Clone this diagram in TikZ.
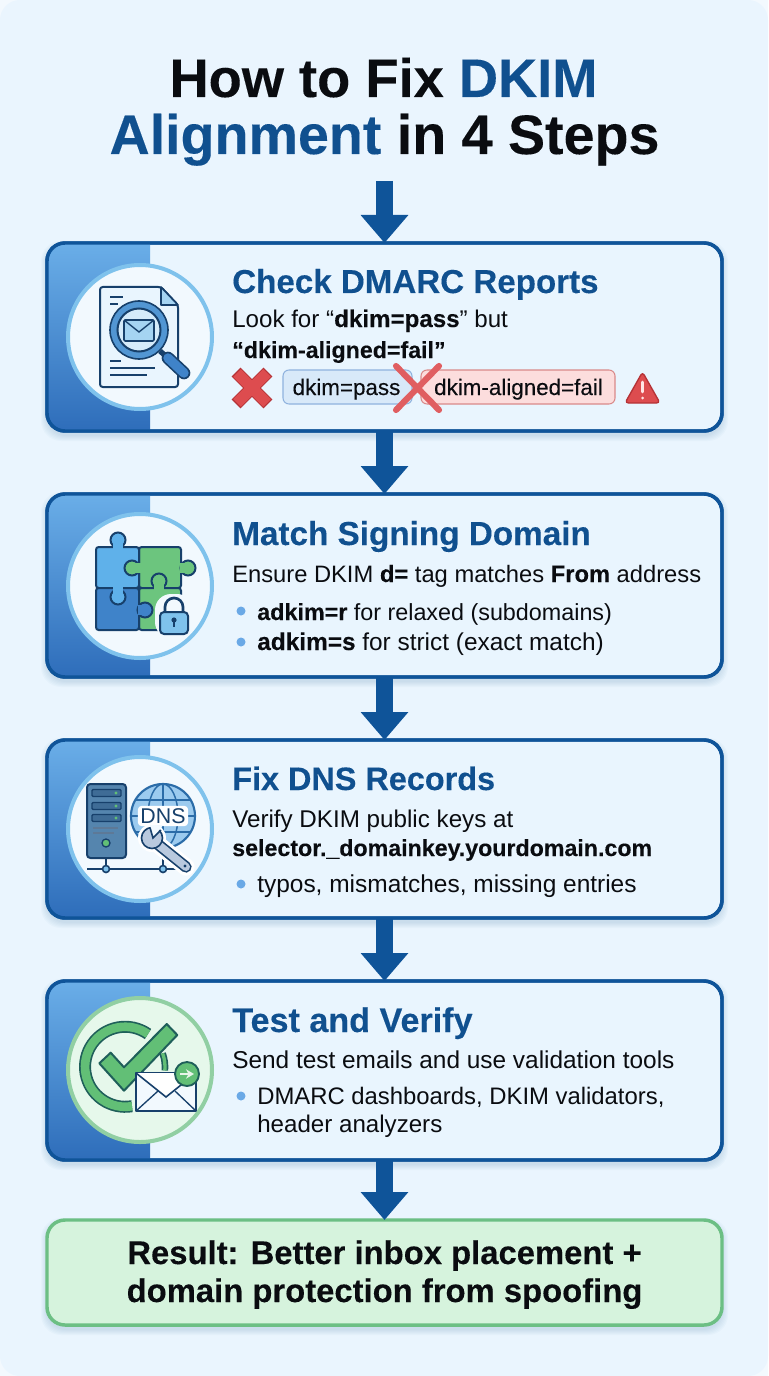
\documentclass[tikz,border=0pt]{standalone}
\usepackage{fontspec}
\setmainfont[BoldFeatures={FakeBold=0.2}]{Liberation Sans}
\newfontfamily\midfont[FakeBold=0.25]{Liberation Sans}
\usetikzlibrary{arrows.meta,calc}
\definecolor{pagebg}{HTML}{EAF5FE}
\definecolor{pagecorner}{HTML}{F3F9FE}
\definecolor{cardfill}{HTML}{E9F5FE}
\definecolor{navy}{HTML}{0F5499}
\definecolor{heading}{HTML}{10508F}
\definecolor{ink}{HTML}{0A0C10}
\definecolor{panelTop}{HTML}{6AAEE8}
\definecolor{panelBot}{HTML}{2E6DBA}
\definecolor{ringblue}{HTML}{7FC2EC}
\definecolor{ringfillc}{HTML}{F2F9FE}
\definecolor{outl}{HTML}{17406B}
\definecolor{bullet}{HTML}{6AA9E6}
\definecolor{redx}{HTML}{DD4C4F}
\definecolor{redd}{HTML}{B53236}
\definecolor{greenfill}{HTML}{D6F3DD}
\definecolor{greenline}{HTML}{6CBF84}
\definecolor{chk}{HTML}{62BF76}
\definecolor{chkd}{HTML}{1F5F5A}
\definecolor{pzA}{HTML}{5FB1EA}
\definecolor{pzB}{HTML}{3F83C9}
\definecolor{pzG}{HTML}{6CC57E}
\definecolor{globefill}{HTML}{9CCBEF}
\definecolor{globeline}{HTML}{2B6CA8}
\definecolor{servfill}{HTML}{5585AE}
\definecolor{slotfill}{HTML}{3F6C96}
\definecolor{steel}{HTML}{B9C9DE}
\definecolor{passfill}{HTML}{D8E9F9}
\definecolor{passline}{HTML}{8FB2DE}
\definecolor{failfill}{HTML}{FCDDDD}
\definecolor{failline}{HTML}{D98A8A}
\tikzset{
  cardbox/.style={draw=navy,line width=2.6pt,fill=cardfill,rounded corners=13.5pt,minimum width=506.25pt,outer sep=0pt,inner sep=0pt},
  flow/.style={draw=navy,line width=13pt,-{Triangle[width=34.5pt,length=21pt]}},
  cardtitle/.style={anchor=base west,inner sep=0pt,text=heading,font=\bfseries\fontsize{#1}{28}\selectfont},
  bodytext/.style={anchor=base west,inner sep=0pt,text=ink,font=\fontsize{#1}{20}\selectfont},
  pilltext/.style={anchor=base,inner sep=0pt,text=ink,font=\midfont\fontsize{16.8}{18}\selectfont},
  titletext/.style={anchor=base,inner sep=0pt,text=ink,font=\bfseries\fontsize{#1}{46}\selectfont},
  resulttext/.style={anchor=base,inner sep=0pt,text=ink,font=\bfseries\fontsize{24.6}{28}\selectfont},
  ringc/.style={draw=ringblue,line width=3pt,fill=ringfillc},
  dot/.style={fill=bullet,draw=none},
  icon/.style={draw=outl,line width=1.5pt,line join=round},
}
\newcommand\softshadow[2]{% top, bottom
  \foreach \e in {1,2,...,6}{
    \fill[navy,opacity=0.025,rounded corners=15pt] ($(47-\e,#1-\e+4)$) rectangle ($(722+\e,#2+\e+4)$);
  }}
\newcommand\cardpanel[3]{% name, top, bottom
  \begin{scope}
    \clip[rounded corners=13.5pt] (47,#2) rectangle (722,#3);
    \shade[top color=panelTop,bottom color=panelBot] (47,#2) rectangle (150,#3);
  \end{scope}
  \draw[navy,line width=2.6pt,rounded corners=13.5pt] (#1.north west) rectangle (#1.south east);}
\begin{document}
\begin{tikzpicture}[x=0.75pt,y=-0.75pt]
\useasboundingbox (0,0) rectangle (768,1376);
\fill[pagecorner] (0,0) rectangle (768,1376);
\fill[pagebg,rounded corners=15pt] (0,0) rectangle (768,1376);

% title
\node[titletext=40.7] (t1) at (383.5,97) {How to Fix \textcolor{heading}{DKIM}};
\node[titletext=41.7] (t2) at (384.5,154) {\textcolor{heading}{Alignment} in 4 Steps};
\coordinate (start) at (384.5,181);

% cards
\softshadow{243}{431}\softshadow{494}{677}\softshadow{740}{918}\softshadow{981}{1160}\softshadow{1220}{1325}
\node[cardbox,minimum height=141pt] (c1) at (384.5,337) {};
\node[cardbox,minimum height=137.25pt] (c2) at (384.5,585.5) {};
\node[cardbox,minimum height=133.5pt] (c3) at (384.5,829) {};
\node[cardbox,minimum height=134.25pt] (c4) at (384.5,1070.5) {};
\node[cardbox,draw=greenline,fill=greenfill,minimum height=78.75pt] (c5) at (384.5,1272.5) {};
\cardpanel{c1}{243}{431}
\cardpanel{c2}{494}{677}
\cardpanel{c3}{740}{918}
\cardpanel{c4}{981}{1160}

% arrows
\draw[flow] (start) -- (c1.north);
\draw[flow] (c1.south) -- (c2.north);
\draw[flow] (c2.south) -- (c3.north);
\draw[flow] (c3.south) -- (c4.north);
\draw[flow] (c4.south) -- (c5.north);

% circles
\draw[ringc] (140,337) circle[radius=72];
\draw[ringc] (140,586) circle[radius=72];
\draw[ringc] (140,829) circle[radius=72];
\draw[draw=greenline!75!white,line width=3pt,fill=greenfill!60!white] (140,1070) circle[radius=72];

% ---- icon 1: document + magnifier
\draw[icon,fill=cardfill] (100,292) [rounded corners=2pt]-- (100,387) -- (178,387) -- (178,305) -- (161,287) -- (100,287) -- cycle;
\draw[icon,fill=ringblue!70!white,line width=1.2pt] (161,287) -- (161,305) -- (178,305) -- cycle;
\draw[outl,line width=1.1pt] (110,297) -- (123,297) (110,304) -- (118,304) (110,361) -- (121,361) (110,368) -- (155,368) (110,375) -- (147,375);
\draw[outl,line width=4pt] (160,351) -- (168,358);
\draw[outl,line width=9.5pt,line cap=round] (168,358) -- (184,373);
\draw[pzB,line width=7pt,line cap=round] (168,358) -- (184,373);
\draw[outl,line width=1.2pt,fill=pzB!70!ringblue] (139,330) circle[radius=29];
\draw[outl,line width=1.5pt,fill=ringfillc!75!ringblue] (139,330) circle[radius=21.5];
\draw[outl,line width=1.2pt,fill=ringblue!70!white,rounded corners=1pt] (124,320) rectangle (154,341);
\draw[outl,line width=1pt] (124,320) -- (139,332) -- (154,320);

% ---- icon 2: puzzle
\begin{scope}[line width=1.5pt,draw=outl]
\draw[fill=pzG,rounded corners=2pt] (139,547) rectangle (181,588);
\draw[fill=pzG,rounded corners=2pt] (139,588) rectangle (181,630);
\draw[fill=pzA,rounded corners=2pt] (96,547) rectangle (139,588);
\draw[fill=pzB,rounded corners=2pt] (96,588) rectangle (139,630);
% knobs
\draw[fill=pzA] (118,540) circle[radius=7.5];
\fill[pzA] (113,543) rectangle (123,548.5);
\draw[fill=pzG] (132,568) circle[radius=7.5];
\fill[pzG] (135,563) rectangle (140.5,573);
\draw[fill=pzG] (188,568) circle[radius=7.5];
\fill[pzG] (179.5,563) rectangle (185,573);
\draw[fill=pzG] (159,581) circle[radius=7.5];
\fill[pzG] (154,584) rectangle (164,589.5);
\draw[fill=pzA] (118,597) circle[radius=7.5];
\fill[pzA] (113,586.5) rectangle (123,594);
\draw[fill=pzB] (145,610) circle[radius=7.5];
\fill[pzB] (137.5,605) rectangle (142,615);
% lock
\fill[ringfillc,rounded corners=12pt] (155,594) rectangle (193,638);
\draw[outl,line width=2pt] (165,613) -- (165,607) arc[start angle=180,end angle=360,radius=9] -- (183,613);
\draw[fill=ringblue,rounded corners=3pt] (160,612) rectangle (188,634);
\fill[outl] (174,620) circle[radius=2.6];
\draw[outl,line width=1.4pt] (174,620) -- (174,627);
\end{scope}

% ---- icon 3: server, globe
\draw[outl,line width=1.4pt] (87,869) -- (176,869) (106,858) -- (106,869) (163,845) -- (163,869);
\draw[icon,fill=servfill,rounded corners=2.5pt] (87,784) rectangle (126,858);
\foreach \yy in {793,806,818}{
  \draw[outl,line width=1pt,fill=slotfill,rounded corners=.8pt] (92,\yy-3.5) rectangle (121,\yy+3.5);
  \fill[chk] (116,\yy) circle[radius=1.6];
}
\draw[outl!70!white,line width=.8pt] (93,828) -- (118,828) (93,833) -- (114,833);
\draw[outl,line width=1pt,fill=chk] (106,843) circle[radius=4];
\draw[outl,line width=1.2pt,fill=ringblue] (106,869) circle[radius=3.5];
\draw[outl,line width=1.2pt,fill=ringblue] (163,869) circle[radius=3.5];
\begin{scope}
\clip (163,816) circle[radius=32];
\fill[globefill] (163,816) circle[radius=32];
\draw[globeline,line width=1.1pt] (163,784) -- (163,848) (131,816) -- (195,816) (131,800) -- (195,800) (131,832) -- (195,832);
\draw[globeline,line width=1.1pt] (163,816) ellipse[x radius=15,y radius=32];
\end{scope}
\draw[globeline,line width=1.6pt] (163,816) circle[radius=32];
\node[fill=white,rounded corners=3pt,inner sep=2pt,text=outl,font=\fontsize{16}{18}\selectfont] (dnslabel) at (163,816) {DNS};
% wrench
\draw[white,line width=13pt,line cap=round] (155,842) -- (186,867);
\fill[white] (152,838) circle[radius=14];
\draw[outl,line width=8.5pt,line cap=round] (155,842) -- (186,867);
\draw[steel,line width=6pt,line cap=round] (155,842) -- (186,867);
\draw[outl,line width=1.2pt,fill=steel] (152,838) circle[radius=10.5];
\fill[ringfillc] (153,838) -- (150,825) -- (163,825) -- cycle;
\draw[outl,line width=1.2pt] (150,827.7) -- (153,838) -- (161,830);
\fill[outl] (185,866) circle[radius=1.6];

% ---- icon 4: check + envelope
\draw[chkd,line width=9pt] (148,1034) arc[start angle=-55,end angle=-280,radius=40];
\draw[chk,line width=6.5pt] (148,1034) arc[start angle=-55,end angle=-280,radius=40];
\draw[chkd,line width=5pt] (162.6,1053.3) arc[start angle=-20,end angle=5,radius=40];
\draw[chk,line width=2.5pt] (162.6,1053.3) arc[start angle=-20,end angle=5,radius=40];
\draw[chkd,line width=1.5pt,fill=chk,line join=round] (99.3,1063.3) -- (110.7,1052.7) -- (124,1067.3) -- (166.7,1024) -- (177.3,1035) -- (124,1090.7) -- cycle;
\draw[icon,fill=ringfillc] (136,1073) rectangle (196,1111);
\draw[outl,line width=1.2pt,fill=white] (136,1073) -- (166,1097) -- (196,1073);
\draw[outl,line width=1pt] (136,1111) -- (158,1091) (196,1111) -- (175,1091);
\draw[chkd,line width=1.4pt,fill=chk] (187,1074) circle[radius=12];
\draw[white!85!chk,line width=2pt,-{Stealth[length=6pt,width=7pt]}] (180,1074) -- (194,1074);

% ---- texts card 1
\node[cardtitle=24.85] (h1) at (232,293) {Check DMARC Reports};
\node[bodytext=18.1] (b11) at (232,327) {Look for “\textbf{dkim=pass}” but};
\node[bodytext=17.4] (b12) at (232,358) {\textbf{“dkim-aligned=fail”}};

% pills
\draw[redd,line width=9.4pt,shorten >=-1pt,shorten <=-1pt] (237,373) -- (267,403);
\draw[redd,line width=9.4pt,shorten >=-1pt,shorten <=-1pt] (267,373) -- (237,403);
\draw[redx,line width=8pt] (237,373) -- (267,403) (267,373) -- (237,403);
\node[draw=passline,fill=passfill,line width=.8pt,rounded corners=4.5pt,minimum width=96.75pt,minimum height=25.5pt,inner sep=0pt] (p1) at (347.5,387) {};
\node[draw=failline,fill=failfill,line width=.8pt,rounded corners=4.5pt,minimum width=145.5pt,minimum height=25.5pt,inner sep=0pt] (p2) at (518,387) {};
\node[pilltext] (pt1) at (346.5,395) {dkim=pass};
\node[pilltext] (pt2) at (518.5,395) {dkim-aligned=fail};
\draw[redx!90!white,line width=4.6pt,line cap=round] (396,366) -- (439,410) (439,366) -- (396,410);
\draw[redd,line width=1pt,fill=redx,rounded corners=2.5pt,line join=round] (642.5,372) -- (660,403) -- (625,403) -- cycle;
\draw[white!90!red,line width=2.2pt,line cap=round] (642.5,382) -- (642.5,392);
\fill[white!90!red] (642.5,398) circle[radius=1.5];

% card 2
\node[cardtitle=24.95] (h2) at (232,545) {Match Signing Domain};
\node[bodytext=17.8] (b21) at (232,582) {Ensure DKIM \textbf{d=} tag matches \textbf{From} address};
\fill[dot] (241,611) circle[radius=4.5];
\node[bodytext=17.5] (b22) at (257,620) {\textbf{adkim=r} for relaxed (subdomains)};
\fill[dot] (241,642) circle[radius=4.5];
\node[bodytext=18.3] (b23) at (257,650) {\textbf{adkim=s} for strict (exact match)};

% card 3
\node[cardtitle=24.3] (h3) at (232,790) {Fix DNS Records};
\node[bodytext=18.15] (b31) at (232,827) {Verify DKIM public keys at};
\node[bodytext=17.4] (b32) at (232,856) {\textbf{selector.\_domainkey.yourdomain.com}};
\fill[dot] (241,884) circle[radius=4.5];
\node[bodytext=18.35] (b33) at (257,892) {typos, mismatches, missing entries};

% card 4
\node[cardtitle=25.6] (h4) at (232,1032) {Test and Verify};
\node[bodytext=18.3] (b41) at (232,1068) {Send test emails and use validation tools};
\fill[dot] (241,1096) circle[radius=4.5];
\node[bodytext=17.9] (b42) at (257,1104) {DMARC dashboards, DKIM validators,};
\node[bodytext=18.1] (b43) at (257,1132) {header analyzers};

% result
\node[resulttext] (r1) at (384.5,1264) {Result: Better inbox placement +};
\node[resulttext] (r2) at (384.5,1302) {domain protection from spoofing};
\end{tikzpicture}
\end{document}
